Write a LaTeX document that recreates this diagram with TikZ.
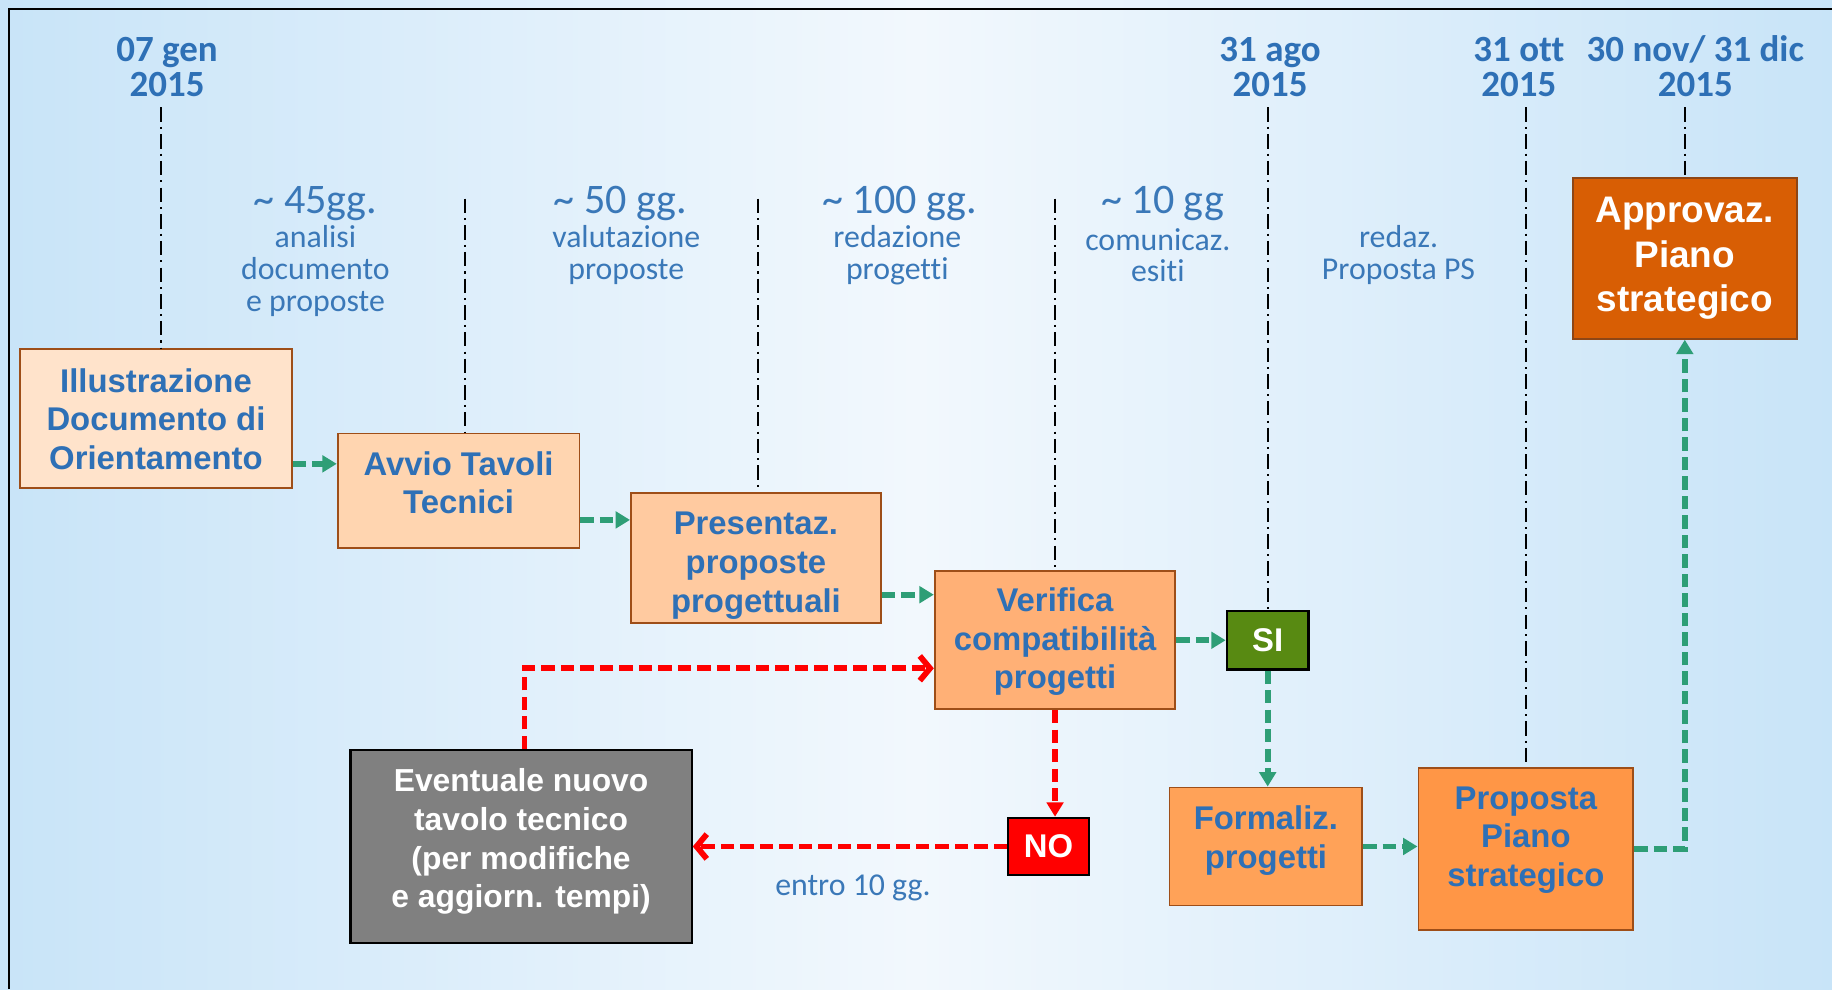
\documentclass[tikz,border=0pt]{standalone}
\usepackage{fontspec}
\setmainfont{Carlito}[Ligatures=NoCommon]
\newfontfamily\boxfont{Liberation Sans}
\usetikzlibrary{positioning, arrows.meta, calc}

\definecolor{txtblue}{RGB}{46,112,182}
\definecolor{durblue}{RGB}{58,120,184}
\definecolor{boxedge}{RGB}{158,78,24}
\definecolor{peachA}{RGB}{255,227,203}
\definecolor{peachB}{RGB}{255,213,176}
\definecolor{peachC}{RGB}{255,202,160}
\definecolor{orangeA}{RGB}{255,176,118}
\definecolor{orangeB}{RGB}{255,162,88}
\definecolor{orangeC}{RGB}{255,150,70}
\definecolor{orangeD}{RGB}{216,94,4}
\definecolor{siGreen}{RGB}{88,138,18}
\definecolor{flowgreen}{RGB}{46,158,118}
\definecolor{bgside}{RGB}{200,228,248}
\definecolor{bgmid}{RGB}{242,248,253}
\newcommand{\lowpad}[1]{\rule[-#1]{0pt}{0pt}}
\newcommand{\highpad}[1]{\rule{0pt}{#1}}

\begin{document}
\begin{tikzpicture}[x=0.02cm, y=-0.02cm,
    phase/.style={draw=boxedge, line width=0.9pt, text=txtblue, align=center, inner sep=0pt,
        font=\boxfont\bfseries\fontsize{16}{18.8}\selectfont},
    verdict/.style={draw=black, line width=1.1pt, text=white, inner sep=0pt,
        font=\boxfont\bfseries\fontsize{16}{18}\selectfont},
    date/.style={text=txtblue, align=center, inner sep=0pt, font=\bfseries\fontsize{18}{17}\selectfont},
    dur/.style={text=durblue, inner sep=0pt, font=\fontsize{20.5}{22}\selectfont},
    desc/.style={text=durblue, align=center, inner sep=0pt, font=\fontsize{15.5}{15.4}\selectfont},
    tick/.style={line width=0.8pt, dash pattern=on 7pt off 2.5pt on 1pt off 2.5pt},
    flow/.style={flowgreen, line width=2.8pt, dash pattern=on 6.5pt off 3pt, -{Triangle[length=7pt, width=8pt]}},
    nogo/.style={red, line width=2.8pt, dash pattern=on 6.5pt off 3pt, -{Triangle[length=7pt, width=8pt]}},
    back/.style={red, line width=2.8pt, dash pattern=on 6.5pt off 3pt, -{Straight Barb[length=5pt, width=12pt]}}]
    \useasboundingbox (0,0) rectangle (1568,846.5);
    \shade[left color=bgside, right color=bgside, middle color=bgmid] (0,0) rectangle (1568,846.5);
    \draw[line width=1.1pt] (8,846.5) -- (8,8) -- (1568,8);

    % Dates
    \node[date] (jan) at (143,57) {07 gen\\2015};
    \node[date] (aug) at (1087,57) {31 ago\\2015};
    \node[date] (oct) at (1300,57) {31 ott\\2015};
    \node[date] (dec) at (1451,57) {30 nov/ 31 dic\\2015};

    % Durations
    \node[dur] (dur1) at (270,174) {\textasciitilde\ 45gg.};
    \node[dur] (dur2) at (531,174) {\textasciitilde\ 50 gg.};
    \node[dur] (dur3) at (770,174) {\textasciitilde\ 100 gg.};
    \node[dur] (dur4) at (995,174) {\textasciitilde\ 10 gg};
    \node[desc] (desc1) at (270,232) {analisi\\documento\\e proposte};
    \node[desc] (desc2) at (536,218.5) {valutazione\\proposte};
    \node[desc] (desc3) at (768,218.5) {redazione\\progetti};
    \node[desc] (desc4) at (991,218.5) {comunicaz.\\esiti};
    \node[desc] (desc5) at (1197,218.5) {redaz.\\Proposta PS};

    % Phases
    \node[phase, fill=peachA, minimum width=4.66cm, minimum height=2.38cm] (illus) at (133.5,358.5) {Illustrazione\\Documento di\\Orientamento};
    \node[phase, fill=peachB, minimum width=4.14cm, minimum height=1.96cm] (avvio) at (392.5,420) {Avvio Tavoli\\Tecnici\lowpad{8pt}};
    \node[phase, fill=peachC, minimum width=4.28cm, minimum height=2.22cm] (pres) at (647,477.5) {\highpad{18.5pt}Presentaz.\\proposte\\progettuali};
    \node[phase, fill=orangeA, minimum width=4.12cm, minimum height=2.36cm] (verif) at (903,548) {\highpad{13pt}Verifica\\compatibilità\\progetti};
    \node[verdict, fill=siGreen, minimum width=1.4cm, minimum height=1cm] (si) at (1085,548) {SI};
    \node[verdict, fill=red, minimum width=1.38cm, minimum height=0.98cm] (no) at (897.5,724.5) {NO};
    \node[phase, draw=black, line width=1.1pt, fill=black!50, text=white, minimum width=5.84cm, minimum height=3.3cm,
        font=\boxfont\bfseries\fontsize{15.5}{18.8}\selectfont] (tavolo) at (446,724.5) {Eventuale nuovo\\tavolo tecnico\\(per modifiche\\e aggiorn. tempi)\lowpad{8pt}};
    \node[phase, fill=orangeB, minimum width=3.3cm, minimum height=2.02cm] (formal) at (1083.5,724.5) {Formaliz.\\progetti\lowpad{9pt}};
    \node[phase, fill=orangeC, minimum width=3.68cm, minimum height=2.78cm] (prop) at (1306,726.5) {Proposta\\Piano\\strategico\lowpad{12pt}};
    \node[phase, draw=boxedge!90!black, fill=orangeD, text=white, minimum width=3.84cm, minimum height=2.76cm,
        font=\boxfont\bfseries\fontsize{18}{21.6}\selectfont] (appr) at (1442,221) {Approvaz.\\Piano\\strategico};
    \node[desc] (entro) at (730,760) {entro 10 gg.};

    % Time marks
    \coordinate (jantop) at (138,92);
    \coordinate (t1top) at (398,170);
    \coordinate (t2top) at (649,170);
    \coordinate (t3top) at (903,170);
    \draw[tick] (jantop) -- (jantop |- illus.north);
    \draw[tick] (t1top) -- (t1top |- avvio.north);
    \draw[tick] (t2top) -- (t2top |- pres.north);
    \draw[tick] (t3top) -- (verif.north);
    \draw[tick] (si.north |- 0,92) -- (si.north);
    \draw[tick] (prop.north |- 0,92) -- (prop.north);
    \draw[tick] (appr.north |- 0,92) -- (appr.north);

    % Flow
    \draw[flow] ([yshift=-0.77cm]illus.east) coordinate (a1) -- (a1 -| avvio.west);
    \draw[flow] ([yshift=-0.5cm]avvio.east) coordinate (a2) -- (a2 -| pres.west);
    \draw[flow] ([yshift=-0.63cm]pres.east) coordinate (a3) -- (a3 -| verif.west);
    \draw[flow] (verif.east) -- (si.west);
    \draw[flow] (si.south) -- (si.south |- formal.north);
    \draw[flow] (formal.east) -- (formal.east -| prop.west);
    \draw[flow] (prop.east) -| (appr.south);
    \draw[nogo] (verif.south) -- (verif.south |- no.north);
    \draw[back] (no.west) -- (no.west -| tavolo.east);
    \draw[back] ([xshift=0.06cm]tavolo.north) |- ([yshift=-0.48cm]verif.west);
\end{tikzpicture}
\end{document}
